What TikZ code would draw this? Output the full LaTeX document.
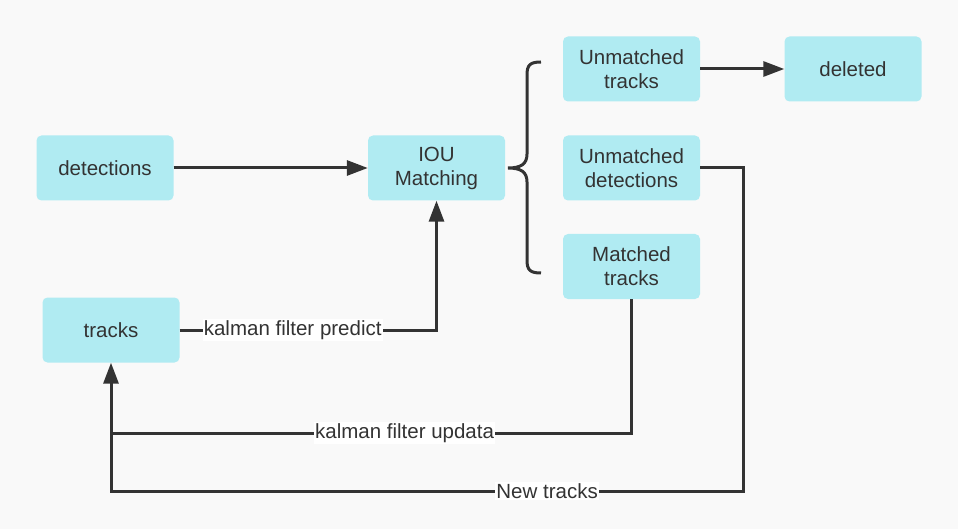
\documentclass[tikz,border=0pt]{standalone}
\usepackage{fontspec}
\setmainfont{Liberation Sans}
\usetikzlibrary{arrows.meta}
\definecolor{bgc}{RGB}{249,249,249}
\definecolor{boxc}{RGB}{176,235,242}
\definecolor{ink}{RGB}{51,51,51}
\begin{document}
\begin{tikzpicture}[x=1pt,y=-1pt,
  box/.style={fill=boxc,rounded corners=5pt,minimum width=137pt,minimum height=65pt,inner sep=0pt,align=center,text=ink,font=\fontsize{20.5}{24}\selectfont},
  conn/.style={draw=ink,line width=3pt},
  arr/.style={conn,-{Triangle[length=21pt,width=15pt]}},
  lbl/.style={fill=white,inner sep=1pt,text=ink,font=\fontsize{20.5}{22}\selectfont}]
\fill[bgc] (0,0) rectangle (958,529);
\useasboundingbox (0,0) rectangle (958,529);

\node[box] (det) at (105,168) {detections};
\node[box] (iou) at (436.5,168) {IOU\\Matching};
\node[box] (trk) at (111,330) {tracks};
\node[box] (ut) at (631.5,69) {Unmatched\\tracks};
\node[box] (del) at (853,69) {deleted};
\node[box] (ud) at (631.5,168) {Unmatched\\detections};
\node[box] (mt) at (631.5,266.5) {Matched\\tracks};

% brace
\draw[draw=ink,line width=3pt] (541,62) .. controls (530,62) and (527,65) .. (527,75) -- (527,154)
  .. controls (527,164) and (521,168) .. (508,168)
  .. controls (521,168) and (527,172) .. (527,182) -- (527,260)
  .. controls (527,270) and (530,273) .. (541,273);

\coordinate (nt) at (743,491);
\coordinate (ku) at (111,433);

\draw[arr] (det) -- (iou);
\draw[arr] (trk.east) -| node[lbl,pos=0.22] {kalman filter predict} (iou.south);
\draw[arr] (ut) -- (del);
\draw[arr] (ud.east) -| (nt) -| node[lbl,pos=0.155] {New tracks} (trk.south);
\draw[conn] (mt.south) |- node[lbl,pos=0.718] {kalman filter updata} (ku);
\end{tikzpicture}
\end{document}
